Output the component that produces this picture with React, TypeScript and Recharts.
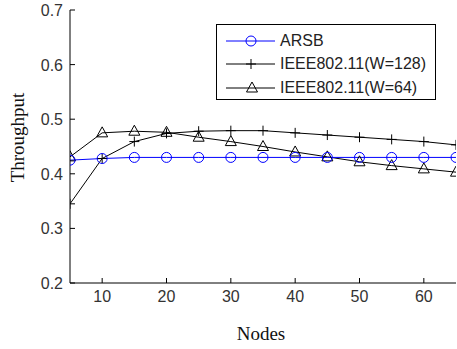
import { LineChart, Line, XAxis, YAxis } from 'recharts'

const nodes = [5, 10, 15, 20, 25, 30, 35, 40, 45, 50, 55, 60, 65]
const arsb = [0.425, 0.428, 0.43, 0.43, 0.43, 0.43, 0.43, 0.43, 0.43, 0.43, 0.43, 0.43, 0.43]
const w128 = [0.345, 0.428, 0.459, 0.474, 0.478, 0.479, 0.479, 0.475, 0.471, 0.467, 0.463, 0.459, 0.453]
const w64 = [0.431, 0.475, 0.478, 0.476, 0.467, 0.459, 0.45, 0.44, 0.431, 0.422, 0.415, 0.409, 0.403]
const xTicks = [10, 20, 30, 40, 50, 60]
const yTicks = [0.2, 0.3, 0.4, 0.5, 0.6, 0.7]

const data = nodes.map((n, i) => ({ n, arsb: arsb[i], w128: w128[i], w64: w64[i] }))

const tickFont = { fontFamily: 'Arial, "Liberation Sans", sans-serif', fontSize: 16, fill: '#333' }
const serif = { fontFamily: '"Times New Roman", "Liberation Serif", serif', fontSize: 19, fill: '#111' }

const circle = (p: any) =>
  p.cx == null ? <g key={p.key} /> : (
    <circle key={p.key} cx={p.cx} cy={p.cy} r={5} fill="none" stroke="#0000ff" strokeWidth={1} />
  )
const plus = (p: any) =>
  p.cx == null ? <g key={p.key} /> : (
    <path key={p.key} d={`M${p.cx - 5},${p.cy}H${p.cx + 5}M${p.cx},${p.cy - 5}V${p.cy + 5}`} stroke="#000" strokeWidth={1} fill="none" />
  )
const tri = (p: any) =>
  p.cx == null ? <g key={p.key} /> : (
    <path key={p.key} d={`M${p.cx},${p.cy - 6}L${p.cx + 5.5},${p.cy + 4}L${p.cx - 5.5},${p.cy + 4}Z`} stroke="#000" strokeWidth={1} fill="none" />
  )

const legendItems = [
  { name: 'ARSB', color: '#0000ff', mark: 'o' },
  { name: 'IEEE802.11(W=128)', color: '#000', mark: '+' },
  { name: 'IEEE802.11(W=64)', color: '#000', mark: '^' },
]

function LegendBox() {
  return (
    <div
      style={{
        position: 'absolute',
        left: 216,
        top: 24,
        width: 220,
        height: 76,
        border: '1px solid #000',
        background: '#fff',
        boxSizing: 'border-box',
        paddingTop: 4,
      }}
    >
      {legendItems.map((it) => (
        <div key={it.name} style={{ display: 'flex', alignItems: 'center', height: 23.5 }}>
          <svg width={60} height={20} style={{ marginLeft: 3, flex: 'none' }}>
            <line x1={6} y1={10} x2={55} y2={10} stroke={it.color} />
            {it.mark === 'o' && <circle cx={31} cy={10} r={5} fill="none" stroke={it.color} />}
            {it.mark === '+' && <path d="M26,10H36M31,5V15" stroke={it.color} fill="none" />}
            {it.mark === '^' && <path d="M32,4L37.5,14L26.5,14Z" stroke={it.color} fill="none" />}
          </svg>
          <span style={{ fontFamily: tickFont.fontFamily, fontSize: 16, color: '#222', marginLeft: 0, whiteSpace: 'nowrap' }}>
            {it.name}
          </span>
        </div>
      ))}
    </div>
  )
}

export default function App() {
  return (
    <div style={{ position: 'absolute', left: 0, top: 0, width: 457, height: 349, background: '#fff' }}>
      <LineChart width={457} height={349} data={data} margin={{ top: 10, right: 1, left: 0, bottom: 0 }}>
        <XAxis
          dataKey="n"
          type="number"
          domain={[5, 65]}
          ticks={xTicks}
          allowDataOverflow
          height={66}
          tickSize={0}
          tickMargin={0}
          tickLine={false}
          axisLine={{ stroke: '#000' }}
          tick={(p: any) => (
            <g>
              <line x1={p.x} y1={p.y} x2={p.x} y2={p.y - 5} stroke="#000" />
              <text x={p.x} y={p.y + 19} textAnchor="middle" {...tickFont}>{p.payload.value}</text>
            </g>
          )}
          label={({ viewBox }: any) => (
            <text x={viewBox.x + viewBox.width / 2 - 2} y={viewBox.y + 57} textAnchor="middle" {...serif}>Nodes</text>
          )}
        />
        <XAxis
          xAxisId="top"
          orientation="top"
          dataKey="n"
          type="number"
          domain={[5, 65]}
          ticks={xTicks}
          allowDataOverflow
          height={0}
          tickSize={0}
          tickMargin={0}
          tickLine={false}
          axisLine={{ stroke: '#000' }}
          tick={(p: any) => <line x1={p.x} y1={p.y} x2={p.x} y2={p.y + 5} stroke="#000" />}
        />
        <YAxis
          type="number"
          domain={[0.2, 0.7]}
          ticks={yTicks}
          allowDataOverflow
          width={70}
          tickSize={0}
          tickMargin={0}
          tickLine={false}
          axisLine={{ stroke: '#000' }}
          tick={(p: any) => (
            <g>
              <line x1={p.x} y1={p.y} x2={p.x + 5} y2={p.y} stroke="#000" />
              <text x={p.x - 7} y={p.y + 6} textAnchor="end" {...tickFont}>{p.payload.value.toFixed(1)}</text>
            </g>
          )}
          label={({ viewBox }: any) => (
            <text
              x={viewBox.x + 24}
              y={viewBox.y + viewBox.height / 2 - 9}
              textAnchor="middle"
              transform={`rotate(-90, ${viewBox.x + 24}, ${viewBox.y + viewBox.height / 2 - 9})`}
              {...serif}
            >
              Throughput
            </text>
          )}
        />
        <YAxis
          yAxisId="right"
          orientation="right"
          type="number"
          domain={[0.2, 0.7]}
          ticks={yTicks}
          allowDataOverflow
          width={0}
          tickSize={0}
          tickMargin={0}
          tickLine={false}
          axisLine={{ stroke: '#000' }}
          tick={(p: any) => <line x1={p.x} y1={p.y} x2={p.x - 5} y2={p.y} stroke="#000" />}
        />
        <Line dataKey="w64" stroke="#000" strokeWidth={1} dot={tri} isAnimationActive={false} />
        <Line dataKey="w128" stroke="#000" strokeWidth={1} dot={plus} isAnimationActive={false} />
        <Line dataKey="arsb" stroke="#0000ff" strokeWidth={1} dot={circle} isAnimationActive={false} />
      </LineChart>
      <LegendBox />
    </div>
  )
}
